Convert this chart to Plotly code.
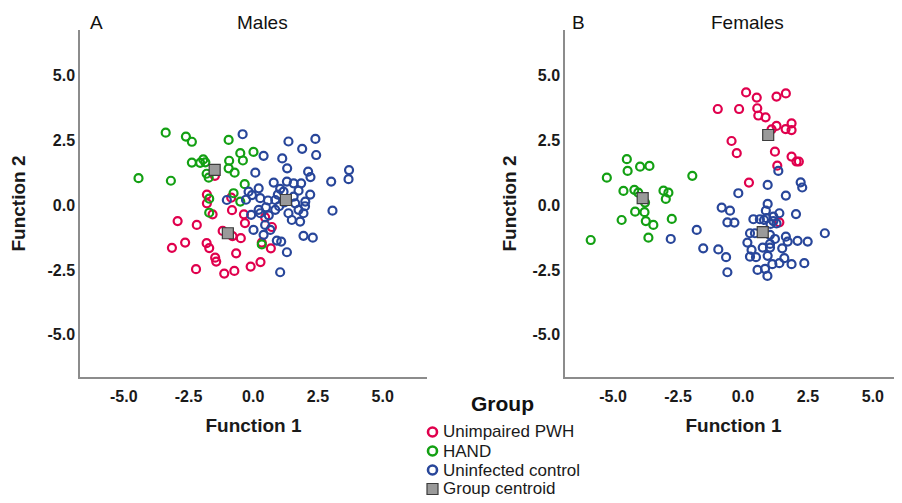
import plotly.graph_objects as go

# ---------------- Males (panel A) ----------------
m_pwh_x = [-2.92, -2.18, -1.79, -1.79, -1.57, -1.48, -0.82, -0.36, -0.32, -1.18, -0.80, -0.48,
           -3.14, -2.63, -1.80, -1.70, -1.47, -1.43, -0.66, -2.21, -1.12, -0.73, -0.10, 0.28,
           0.68, 0.33, 0.72, 0.46, -0.85]
m_pwh_y = [-0.62, -0.77, 0.40, 0.06, -0.36, 1.12, -0.20, -0.36, -0.70, -1.00, -1.20, -1.28,
           -1.65, -1.45, -1.47, -1.66, -2.03, -2.18, -1.86, -2.47, -2.64, -2.54, -2.37, -2.20,
           -1.67, -1.45, -0.85, -0.48, 0.28]

m_hand_x = [-3.38, -2.60, -2.37, -0.95, 0.01, -0.50, -0.40, -0.93, -0.95, -0.72, -2.37, -2.05,
            -1.93, -1.85, -1.80, -1.72, -4.43, -3.18, -0.33, -0.76, -1.70, -1.70, -0.50, 0.33]
m_hand_y = [2.78, 2.63, 2.43, 2.50, 2.04, 1.99, 1.71, 1.70, 1.41, 1.24, 1.63, 1.62,
            1.75, 1.64, 1.20, 1.05, 1.03, 0.93, 0.80, 0.45, 0.24, -0.30, 0.13, -1.52]

m_ctrl_x = [-0.41, 1.36, 2.40, 1.89, 2.43, 0.40, 1.12, 1.31, 0.08, 2.12, 2.21, 3.70, 3.68, 3.01,
            0.21, 0.79, 1.30, 1.56, 1.85, 1.04, 1.17, 1.75, 0.27, 0.57, 0.85, 1.56, 2.01, 1.62,
            -0.18, 0.21, 0.49, 0.85, 1.36, 1.75, 1.94, 3.06, -0.08, 1.49, 1.81, 0.46, 0.01, 0.66,
            0.40, 1.94, 2.30, 0.91, 1.08, 1.30, 1.04, -1.02, -0.28, 0.95, 1.00, 1.20, 2.20, 2.00,
            0.60, 0.27, -0.05]
m_ctrl_y = [2.72, 2.44, 2.54, 2.16, 1.92, 1.89, 1.79, 1.41, 1.24, 1.28, 1.07, 1.34, 0.99, 0.90,
            0.64, 0.86, 0.90, 0.83, 0.83, 0.62, 0.51, 0.55, 0.26, 0.17, 0.19, 0.32, 0.13, 0.06,
            0.51, -0.19, -0.09, -0.19, -0.32, -0.19, -0.32, -0.22, -0.38, -0.58, -0.64, -0.77, -0.96, -0.96,
            -1.15, -1.19, -1.26, -1.37, -1.41, -1.82, -2.59, 0.19, 0.20, 0.40, -0.05, 0.10, 0.40, -0.05,
            -0.40, -0.32, 0.38]

m_cent_x = [-0.98, -1.49, 1.26]
m_cent_y = [-1.09, 1.35, 0.19]

# ---------------- Females (panel B) ----------------
f_pwh_x = [0.12, 0.53, 1.29, 1.65, -0.97, -0.15, 0.55, 0.59, 0.87, 1.10, 1.29, 1.64, 1.87, 1.87,
           -0.44, -0.24, 1.23, 1.87, 2.06, 2.15, 1.32, 0.23, 1.40]
f_pwh_y = [4.33, 4.13, 4.17, 4.29, 3.69, 3.69, 3.72, 3.44, 3.37, 2.91, 3.04, 2.92, 3.14, 2.88,
           2.46, 1.99, 2.05, 1.86, 1.67, 1.67, 1.51, 0.86, -0.67]

f_hand_x = [-4.47, -4.44, -3.96, -3.60, -5.24, -1.95, -4.60, -4.18, -4.03, -3.06, -2.87, -2.97,
            -3.77, -4.15, -3.79, -4.67, -3.74, -3.45, -2.74, -3.64, -5.86]
f_hand_y = [1.76, 1.31, 1.47, 1.50, 1.05, 1.12, 0.54, 0.58, 0.47, 0.55, 0.47, 0.23,
            0.09, -0.26, -0.28, -0.58, -0.62, -0.77, -0.54, -1.26, -1.35]

f_ctrl_x = [-2.78, -1.78, -1.53, -0.95, -0.65, -0.60, -0.82, -0.50, -0.60, -0.33, -0.18, 1.36,
            0.95, 1.65, 2.22, 2.28, 2.04, 0.95, 0.88, 1.40, 0.40, 0.65, 0.91, 1.17, 1.06, 1.29,
            0.27, 0.46, 1.04, 1.23, 1.65, 1.72, 2.10, 2.49, 3.15, 0.17, 0.33, 0.27, 0.50, 0.76,
            1.04, 1.04, 1.51, 0.95, 1.40, 1.59, 1.87, 2.36, 0.56, 0.85, 0.94, 1.13, 0.81, 1.17]
f_ctrl_y = [-1.31, -0.96, -1.67, -1.71, -2.01, -2.59, -0.10, -0.22, -0.67, -0.68, 0.45, 1.31,
            0.77, 0.36, 0.87, 0.67, -0.35, 0.04, -0.22, -0.32, -0.55, -0.55, -0.51, -0.62, -0.73, -0.71,
            -1.09, -1.09, -1.15, -1.31, -1.22, -1.41, -1.38, -1.41, -1.09, -1.45, -1.73, -1.99, -2.01, -1.64,
            -1.64, -1.50, -1.67, -1.96, -2.24, -2.05, -2.28, -2.24, -2.50, -2.46, -2.73, -2.28, -0.58, -0.45]

f_cent_x = [0.97, -3.86, 0.76]
f_cent_y = [2.69, 0.26, -1.05]

group_names = ["Unimpaired PWH", "HAND", "Uninfected control", "Group centroid"]
tick_vals = [-5.0, -2.5, 0.0, 2.5, 5.0]
tick_text = ["-5.0", "-2.5", "0.0", "2.5", "5.0"]

RED = "#E0004D"
GREEN = "#13A013"
BLUE = "#28469A"
CENT_FILL = "#9A9A9A"
CENT_LINE = "#3C3C3C"

fig = go.Figure()

panels = [
    ("x", "y", m_pwh_x, m_pwh_y, m_hand_x, m_hand_y, m_ctrl_x, m_ctrl_y, m_cent_x, m_cent_y),
    ("x2", "y2", f_pwh_x, f_pwh_y, f_hand_x, f_hand_y, f_ctrl_x, f_ctrl_y, f_cent_x, f_cent_y),
]
for xa, ya, px, py, hx, hy, cx, cy, gx, gy in panels:
    for name, xs, ys, col in [(group_names[0], px, py, RED),
                              (group_names[1], hx, hy, GREEN),
                              (group_names[2], cx, cy, BLUE)]:
        fig.add_trace(go.Scatter(
            x=xs, y=ys, mode="markers", name=name, legendgroup=name, showlegend=False,
            xaxis=xa, yaxis=ya,
            marker=dict(symbol="circle-open", size=8, color=col, line=dict(width=2.2, color=col)),
        ))
    fig.add_trace(go.Scatter(
        x=gx, y=gy, mode="markers", name=group_names[3], legendgroup=group_names[3], showlegend=False,
        xaxis=xa, yaxis=ya,
        marker=dict(symbol="square", size=11, color=CENT_FILL, line=dict(width=1.2, color=CENT_LINE)),
    ))

# page has an 8px body margin: figure is placed at (8, 8) in the window
OFF = 8
W, H = 902 - OFF, 503 - OFF
ML = 80 - OFF            # left plot edge at window x=80
MT = 30 - OFF            # top plot edge at window y=30
MB = H - (377 - OFF)     # bottom plot edge at window y=377
PW = W - ML
PH = H - MT - MB
def fx(px):
    return (px - OFF - ML) / PW
def fy(py):
    return (H - MB - (py - OFF)) / PH

axis_common = dict(
    showgrid=False, zeroline=False, showline=True, linecolor="#8C8C8C", linewidth=1.5,
    ticks="", tickvals=tick_vals, ticktext=tick_text, tickangle=0,
    tickfont=dict(family="Arial, Liberation Sans", size=16, color="#1A1A1A", weight="bold"),
)
title_font = dict(family="Arial, Liberation Sans", size=19, color="#1A1A1A", weight="bold")

fig.update_layout(
    width=W, height=H,
    margin=dict(l=ML, r=0, t=MT, b=MB, autoexpand=False),
    paper_bgcolor="white", plot_bgcolor="white",
    font=dict(family="Arial, Liberation Sans", color="#1A1A1A"),
    showlegend=False,
    xaxis=dict(domain=[0, fx(427)], range=[-6.69, 6.71], anchor="y", ticklabelstandoff=4,
               title=dict(text="Function 1", font=title_font), **axis_common),
    yaxis=dict(domain=[0, 1], range=[-6.62, 6.73], anchor="x",
               title=dict(text="Function 2", font=title_font, standoff=18), **axis_common),
    xaxis2=dict(domain=[fx(565), 1], range=[-6.85, 6.12], anchor="y2", ticklabelstandoff=4,
                title=dict(text="Function 1", font=title_font), **axis_common),
    yaxis2=dict(domain=[0, 1], range=[-6.62, 6.73], anchor="x2",
                title=dict(text="Function 2", font=title_font, standoff=11), **axis_common),
)

ann_font = dict(family="Arial, Liberation Sans", size=19, color="#111111")
for text, x in [("A", 96), ("Males", 262), ("B", 578), ("Females", 747)]:
    fig.add_annotation(text=text, xref="paper", yref="paper", x=fx(x), y=fy(22),
                       xanchor="center", yanchor="middle", showarrow=False, font=ann_font)

# Legend (drawn manually for exact spacing)
fig.add_annotation(text="<b>Group</b>", xref="paper", yref="paper", x=fx(502), y=fy(403),
                   xanchor="center", yanchor="middle", showarrow=False,
                   font=dict(family="Arial, Liberation Sans", size=21, color="#111111"))
leg_rows = [(group_names[0], RED, 432), (group_names[1], GREEN, 451),
            (group_names[2], BLUE, 470), (group_names[3], None, 489)]
for name, col, yy in leg_rows:
    if col is not None:
        fig.add_shape(type="circle", xref="paper", yref="paper",
                      x0=fx(428), x1=fx(437), y0=fy(yy + 4.5), y1=fy(yy - 4.5),
                      line=dict(color=col, width=2.6), fillcolor="rgba(0,0,0,0)")
    else:
        fig.add_shape(type="rect", xref="paper", yref="paper",
                      x0=fx(427), x1=fx(438), y0=fy(yy + 5.5), y1=fy(yy - 5.5),
                      line=dict(color=CENT_LINE, width=1.2), fillcolor=CENT_FILL)
    fig.add_annotation(text=name, xref="paper", yref="paper", x=fx(441), y=fy(yy),
                       xanchor="left", yanchor="middle", showarrow=False,
                       font=dict(family="Arial, Liberation Sans", size=17, color="#1A1A1A"))

fig.write_html("out.html")
